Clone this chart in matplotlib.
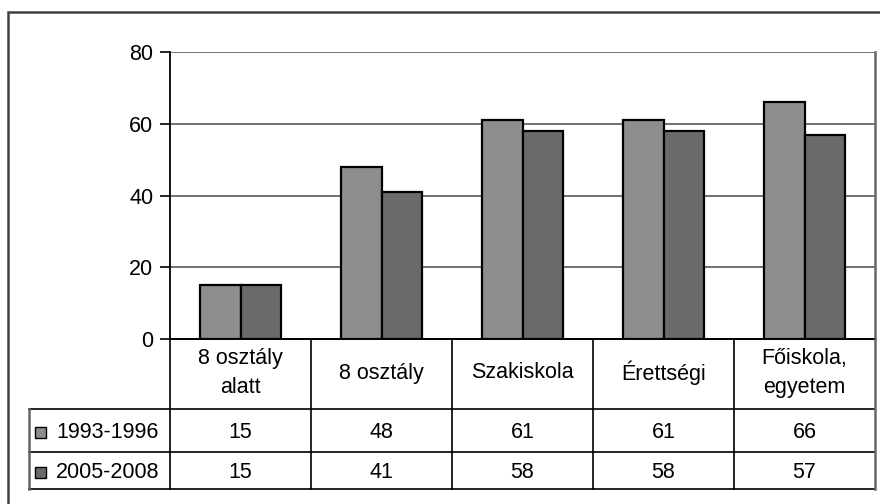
import matplotlib
matplotlib.use("Agg")
import matplotlib.pyplot as plt
from matplotlib.patches import Rectangle

plt.rcParams['font.family'] = ['Liberation Sans', 'DejaVu Sans']

categories = ["8 osztály\nalatt", "8 osztály", "Szakiskola", "Érettségi", "Főiskola,\negyetem"]
series_names = ["1993-1996", "2005-2008"]
values_1993 = [15, 48, 61, 61, 66]
values_2005 = [15, 41, 58, 58, 57]
yticks = [0, 20, 40, 60, 80]
colors = ["#8e8e8e", "#6a6a6a"]

W, H = 880, 504
fig = plt.figure(figsize=(W / 100, H / 100), dpi=100)

def fx(px):
    return px / W

def fy(py):
    return 1 - py / H

# outer frame (cut at right/bottom)
fig.patches.append(Rectangle((fx(8), fy(530)), fx(900) - fx(8), fy(12) - fy(530),
                             transform=fig.transFigure, fill=False,
                             edgecolor="#404040", linewidth=1.8, clip_on=False))

# main axes
left, right, top, zero = 170, 875, 52, 339
ax = fig.add_axes([fx(left), fy(zero), fx(right) - fx(left), fy(top) - fy(zero)])
n = len(categories)
x = list(range(n))
w = 1 / 3.5
ax.bar([i - w / 2 for i in x], values_1993, width=w, color=colors[0],
       edgecolor="black", linewidth=1.6, zorder=3)
ax.bar([i + w / 2 for i in x], values_2005, width=w, color=colors[1],
       edgecolor="black", linewidth=1.6, zorder=3)
ax.set_xlim(-0.5, n - 0.5)
ax.set_ylim(0, 80)
ax.set_yticks(yticks)
ax.set_yticklabels([str(t) for t in yticks], fontsize=15.5)
ax.tick_params(axis='y', length=7, width=1.2, pad=5, color="black")
ax.set_xticks([])
ax.yaxis.grid(True, color="#666666", linewidth=1.3, zorder=0)
ax.set_axisbelow(True)
ax.spines["top"].set_visible(False)
ax.spines["left"].set_color("black")
ax.spines["left"].set_linewidth(1.3)
ax.spines["bottom"].set_color("black")
ax.spines["bottom"].set_linewidth(1.3)
ax.spines["right"].set_color("#666666")
ax.spines["right"].set_linewidth(1.8)

# data table
t_left, t_top, t_bot = 29, 339, 489
row1, row2 = 409, 452
tax = fig.add_axes([fx(t_left), fy(t_bot), fx(right) - fx(t_left), fy(t_top) - fy(t_bot)])
tax.set_xlim(-1.5, n - 0.5)
tax.set_ylim(t_bot, t_top)
tax.axis("off")
lc = "black"
lw = 1.2
tax.plot([-0.5, n - 0.5], [t_top, t_top], color=lc, lw=lw, clip_on=False)
for yy in [row1, row2, t_bot]:
    tax.plot([-1.5, n - 0.5], [yy, yy], color=lc, lw=lw, clip_on=False)
for i in range(n + 1):
    tax.plot([i - 0.5, i - 0.5], [t_top, t_bot], color=lc if i < n else "#666666",
             lw=lw if i < n else 1.8, clip_on=False)
tax.plot([-1.5, -1.5], [row1, t_bot], color="#666666", lw=1.8, clip_on=False)

for i, c in enumerate(categories):
    tax.text(i, (t_top + row1) / 2 - 1, c, ha="center", va="center", fontsize=15.5,
             linespacing=1.55)
rows = [(row1, row2, values_1993), (row2, t_bot, values_2005)]
for k, (ya, yb, vals) in enumerate(rows):
    yc = (ya + yb) / 2 + 2
    for i, v in enumerate(vals):
        tax.text(i, yc, str(v), ha="center", va="center", fontsize=15.5)
    tax.add_patch(Rectangle((-1.5 + 6 / 141, yc - 5.5), 11 / 141, 11,
                            facecolor=colors[k], edgecolor="black", linewidth=1.0,
                            clip_on=False))
    tax.text(-1.5 + 27 / 141, yc, series_names[k], ha="left", va="center", fontsize=15.5)

fig.savefig("out.png", dpi=100)
